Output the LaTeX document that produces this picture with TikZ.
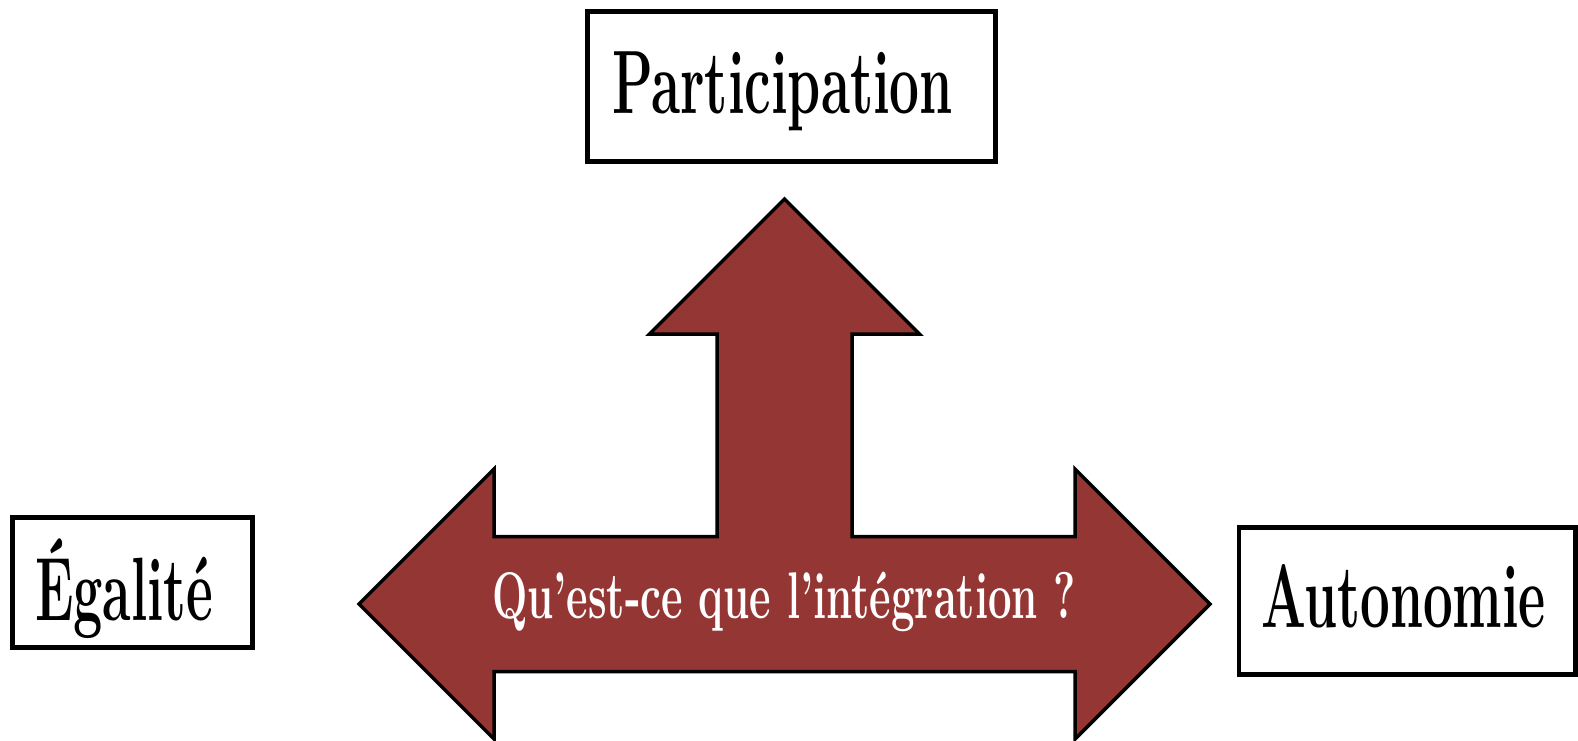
\documentclass[tikz,border=0pt]{standalone}
\usepackage{fontspec}
\usepackage{graphicx}
\definecolor{arrowred}{HTML}{943634}
\begin{document}
\begin{tikzpicture}[x=1pt,y=-1pt,
  box/.style={draw=black, line width=4.5pt, fill=white, inner sep=0pt},
  lbl/.style={anchor=base, inner sep=0pt, text=black, font=\fontsize{90}{90}\selectfont\bfseries},
  qlbl/.style={anchor=base, inner sep=0pt, text=white, font=\fontsize{66}{66}\selectfont\bfseries},
  bigarrow/.style={draw=black, line width=3.5pt, line join=miter, fill=arrowred}]
\useasboundingbox (0,0) rectangle (1578,740);
% three-headed arrow
\draw[bigarrow] (359,604) -- (494,469) -- (494,536.5) -- (717,536.5) -- (717,334)
  -- (649.5,334) -- (784.5,199) -- (919.5,334) -- (852,334) -- (852,536.5)
  -- (1075,536.5) -- (1075,469) -- (1210,604) -- (1075,739) -- (1075,671.5)
  -- (494,671.5) -- (494,739) -- cycle;
\node[qlbl] (question) at (784,618) {\resizebox{584pt}{\height}{Qu’est-ce que l’intégration ?}};
% boxes
\node[box, minimum width=408pt, minimum height=150pt] (partbox) at (791.5,86.5) {};
\node[lbl] (part) at (782.5,113) {\resizebox{341pt}{\height}{Participation}};
\node[box, minimum width=240pt, minimum height=130pt] (egalbox) at (132.5,582.5) {};
\node[lbl] (egal) at (124,620) {\resizebox{178pt}{\height}{Égalité}};
\node[box, minimum width=336.5pt, minimum height=147pt] (autobox) at (1407.25,601) {};
\node[lbl] (auto) at (1403.5,627) {\resizebox{285pt}{\height}{Autonomie}};
\end{tikzpicture}
\end{document}
